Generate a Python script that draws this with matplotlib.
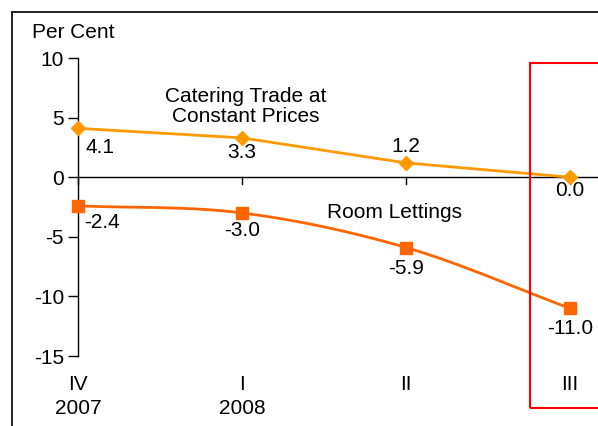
import numpy as np
import matplotlib
matplotlib.use("Agg")
import matplotlib.pyplot as plt
from matplotlib.lines import Line2D
from matplotlib.patches import Rectangle

plt.rcParams['font.family'] = ['Liberation Sans', 'DejaVu Sans']

quarters = ["IV", "I", "II", "III"]
years = ["2007", "2008", "", ""]
catering = [4.1, 3.3, 1.2, 0.0]
lettings = [-2.4, -3.0, -5.9, -11.0]
catering_labels = ["4.1", "3.3", "1.2", "0.0"]
lettings_labels = ["-2.4", "-3.0", "-5.9", "-11.0"]

W, H = 598, 426
FS = 15
fig = plt.figure(figsize=(W / 100, H / 100), dpi=100)
x0, x1 = 78, 598
y_top, y_bot = 58, 356
ax = fig.add_axes([x0 / W, 1 - y_bot / H, (x1 - x0) / W, (y_bot - y_top) / H])
ax.set_xlim(0, (x1 - x0) / 164)
ax.set_ylim(-15, 10)
PX = (y_bot - y_top) / 25.0  # pixels per unit

xs = np.arange(len(quarters))

def smooth(xp, yp, n=30):
    xp = np.asarray(xp, float); yp = np.asarray(yp, float)
    P = np.column_stack([xp, yp])
    P = np.vstack([2 * P[0] - P[1], P, 2 * P[-1] - P[-2]])
    out = []
    for i in range(1, len(P) - 2):
        p0, p1, p2, p3 = P[i - 1], P[i], P[i + 1], P[i + 2]
        t = np.linspace(0, 1, n)[:, None]
        seg = 0.5 * ((2 * p1) + (-p0 + p2) * t + (2 * p0 - 5 * p1 + 4 * p2 - p3) * t ** 2
                     + (-p0 + 3 * p1 - 3 * p2 + p3) * t ** 3)
        out.append(seg)
    out = np.vstack(out)
    return out[:, 0], out[:, 1]

ax.plot(xs, catering, color="#FF9900", lw=2, marker="D", ms=7, mfc="#FF9900",
        mec="#FF9900", clip_on=False, zorder=3)
sx, sy = smooth(xs, lettings)
ax.plot(sx, sy, color="#FF6600", lw=2, clip_on=False, zorder=3)
ax.plot(xs, lettings, ls="none", marker="s", ms=9, mfc="#FF6600", mec="#FF6600",
        clip_on=False, zorder=4)

for sp in ["top", "right", "bottom"]:
    ax.spines[sp].set_visible(False)
ax.spines["left"].set_linewidth(1)
ax.axhline(0, color="black", lw=1, zorder=2)
for x in xs:
    ax.plot([x, x], [0, -7 / PX], color="black", lw=1, clip_on=False)

ax.set_yticks([10, 5, 0, -5, -10, -15])
ax.set_yticklabels(["10", "5", "0", "-5", "-10", "-15"])
ax.tick_params(axis="y", direction="out", length=7, width=1, labelsize=FS, pad=3)
ax.set_xticks([])

# category labels below axis
tr = ax.get_xaxis_transform()
for x, q, yr in zip(xs, quarters, years):
    ax.text(x, -28 / (y_bot - y_top), q, transform=tr, ha="center", va="center", fontsize=FS)
    if yr:
        ax.text(x, -53 / (y_bot - y_top), yr, transform=tr, ha="center", va="center", fontsize=FS)

# data labels (offsets in pixels)
cat_off = [(22, -19), (0, -15), (0, 16), (0, -13)]
for x, v, lab, (dx, dy) in zip(xs, catering, catering_labels, cat_off):
    ax.text(x + dx / 164, v + dy / PX, lab, ha="center", va="center", fontsize=FS)
let_off = [(24, -17), (0, -18), (0, -21), (0, -20)]
for x, v, lab, (dx, dy) in zip(xs, lettings, lettings_labels, let_off):
    ax.text(x + dx / 164, v + dy / PX, lab, ha="center", va="center", fontsize=FS)

ax.text(1.02, 5.95, "Catering Trade at\nConstant Prices", ha="center", va="center",
        fontsize=FS, linespacing=1.08)
ax.text(1.93, -3.0, "Room Lettings", ha="center", va="center", fontsize=FS)

fig.text(32 / W, 1 - 33 / H, "Per Cent", ha="left", va="center", fontsize=FS)

# frame and highlight box
fig.add_artist(Line2D([12 / W, 1], [1 - 12 / H, 1 - 12 / H], color="black", lw=1.2,
                      transform=fig.transFigure))
fig.add_artist(Line2D([12 / W, 12 / W], [1 - 12 / H, 0], color="black", lw=1.2,
                      transform=fig.transFigure))
fig.add_artist(Rectangle((530 / W, 1 - 408 / H), (W + 10 - 530) / W, (408 - 63) / H,
                         fill=False, ec="#FF0000", lw=1.5, transform=fig.transFigure))

fig.savefig("out.png", dpi=100)
